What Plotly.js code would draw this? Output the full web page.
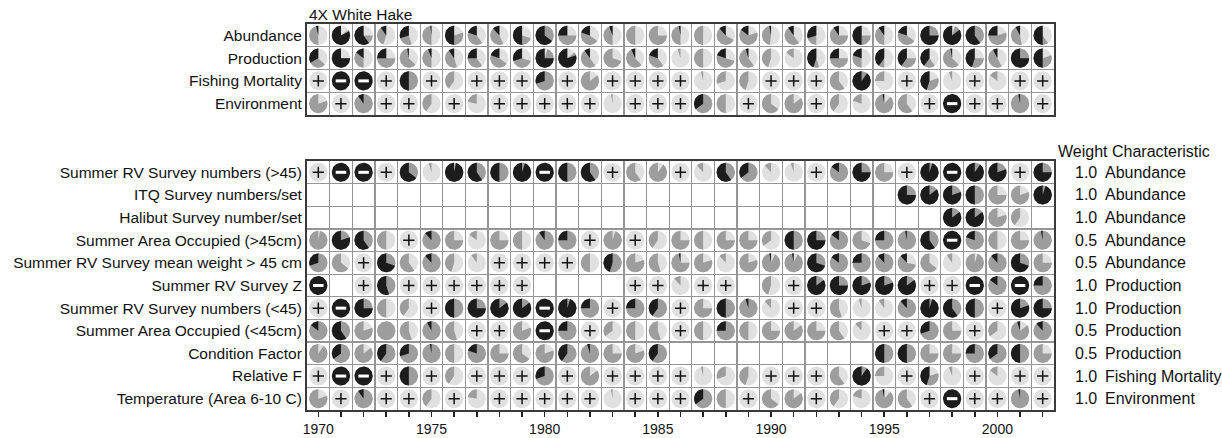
<!DOCTYPE html>
<html><head><meta charset="utf-8">
<script src="https://cdn.plot.ly/plotly-3.0.1.min.js"></script>
<style>html,body{margin:0;padding:0;background:#fff}#chart{width:1222px;height:438px}</style>
</head><body><div id="chart"></div>
<script>
// ---------------- DATA ----------------
const P = 'P', M = 'M', _ = null;   // P = "+" (no signal), M = "⊖" (full), _ = no data
const years = [1970,1971,1972,1973,1974,1975,1976,1977,1978,1979,
               1980,1981,1982,1983,1984,1985,1986,1987,1988,1989,
               1990,1991,1992,1993,1994,1995,1996,1997,1998,1999,
               2000,2001,2002];
const labelYears = [1970,1975,1980,1985,1990,1995,2000];
const chartTitle = '4X White Hake';

// each cell: [black fraction, grey fraction] drawn counter-clockwise from 12 o'clock
const abundance = [
  [0.04,0.46],[0.82,0.03],[0.6,0.15],[0.1,0.35],[0.3,0.25],[0.02,0.48],[0.5,0.3],[0.2,0.4],[0.12,0.45],[0.5,0.2],
  [0.65,0.35],[0.25,0.5],[0.2,0.45],[0.06,0.44],[0,0.5],[0,0.75],[0.03,0.47],[0,0.5],[0.12,0.55],[0.15,0.65],
  [0.03,0.45],[0.1,0.5],[0.3,0.2],[0.1,0.65],[0.5,0.25],[0.1,0.4],[0.2,0.45],[0.75,0.25],[0.85,0.1],[0.6,0.4],
  [0.25,0.55],[0.08,0.45],[0.5,0.1]];
const production = [
  [0.33,0.3],[0.75,0],[0.15,0.35],[0.25,0.5],[0.03,0.6],[0.06,0.44],[0.1,0.45],[0.25,0.35],[0.2,0.45],[0.3,0.4],
  [0.75,0.2],[0.8,0.05],[0.1,0.5],[0,0.7],[0.07,0.55],[0.2,0.4],[0,0.05],[0,0.5],[0.2,0.5],[0.05,0.55],
  [0,0.45],[0,0.15],[0.45,0.1],[0.25,0.5],[0.2,0.3],[0.4,0.1],[0.4,0.35],[0.4,0.2],[0.03,0.6],[0.45,0.3],
  [0.08,0.5],[0.75,0.25],[0.5,0.3]];
const relativeF = [
  P,M,M,P,[0.5,0.5],P,[0,0.4],P,P,P,
  [0.3,0.7],P,[0,0.85],P,P,P,P,[0,0.04],[0,0.3],[0,0.45],
  P,P,P,[0,0.6],[0.9,0.1],[0,0.25],P,[0.45,0.35],[0,0.06],P,
  [0,0.15],P,P];
const temperature = [
  [0,0.8],P,[0.1,0.9],P,P,[0,0.4],P,[0,0.22],P,P,
  P,P,P,[0,0.03],P,P,P,[0.35,0.65],[0,0.5],P,
  [0,0.65],[0,0.85],P,[0,0.4],[0,0.2],[0.03,0.85],[0,0.6],P,M,P,
  P,[0.03,0.97],P];
const fishingMortality = relativeF;   // single indicator
const environment = temperature;      // single indicator

const srvLarge = [
  P,M,M,P,[0.65,0.35],[0,0.05],[0.97,0],[0.6,0.4],[0.5,0.5],[0.95,0.05],
  M,[0.5,0.5],[0.6,0.4],P,[0,0.6],[0,0.9],P,[0,0.12],[0.6,0.4],[0.35,0.65],
  [0,0.12],[0,0.05],P,[0.15,0.85],[0.75,0.25],[0,0.75],P,[0.95,0.05],M,[0.9,0.1],
  [0.8,0.2],P,[0.75,0.25]];
const itqSurvey = [
  _,_,_,_,_,_,_,_,_,_,
  _,_,_,_,_,_,_,_,_,_,
  _,_,_,_,_,_,[0.75,0.25],[0.85,0.15],[0.8,0.2],[0.5,0.5],
  [0,0.75],[0,0.8],[0.95,0.05]];
const halibutSurvey = [
  _,_,_,_,_,_,_,_,_,_,
  _,_,_,_,_,_,_,_,_,_,
  _,_,_,_,_,_,_,_,[0.85,0.15],[0.85,0.15],
  [0,0.8],[0,0.4],_];
const saoLarge = [
  [0,0.97],[0.8,0.2],[0.6,0.4],[0,0.5],P,[0.12,0.88],[0,0.75],[0,0.15],[0,0.75],[0,0.5],
  [0.1,0.9],[0.25,0.75],P,[0,0.95],P,[0,0.4],[0,0.75],[0,0.5],[0,0.75],[0,0.75],
  [0,0.35],[0.5,0.5],[0.75,0.25],[0.15,0.85],[0,0.7],[0.25,0.75],[0.03,0.97],[0.6,0.4],M,[0.2,0.8],
  [0,0.5],[0,0.75],[0.03,0.97]];
const srvMeanWt = [
  [0.3,0.7],[0,0.65],P,[0.7,0.3],[0,0.6],[0.12,0.88],[0,0.45],[0,0.1],P,P,
  P,P,[0,0.5],[0.45,0.55],[0,0.8],[0,0.55],[0.03,0.72],[0,0.8],[0,0.12],[0,0.8],
  [0.03,0.9],[0.03,0.9],[0.7,0.3],[0.15,0.85],[0.25,0.75],[0.12,0.88],[0.12,0.6],[0,0.65],[0,0.1],[0,0.95],
  [0.12,0.88],[0.7,0.3],[0,0.75]];
const srvZ = [
  M,_,P,[0.55,0.45],P,P,P,P,P,P,
  _,_,_,_,P,P,[0,0.12],P,P,_,
  [0,0.45],P,[0.85,0.15],[0.75,0.25],[0.8,0.2],[0.8,0.2],[0.85,0.15],P,P,M,
  [0.15,0.85],M,[0.25,0.75]];
const srvSmall = [
  P,M,[0.75,0.25],[0,0.5],[0,0.4],P,[0.5,0.5],[0.75,0.25],[0.85,0.15],[0.85,0.15],
  M,[0.95,0.05],[0.25,0.75],P,[0.25,0.75],[0.4,0.6],P,[0,0.75],[0.5,0.5],[0.05,0.95],
  [0,0.12],P,P,[0,0.55],[0,0.05],[0,0.1],[0.12,0.88],[0.95,0.05],[0.6,0.4],[0.5,0.5],
  P,[0.8,0.2],[0.75,0.25]];
const saoSmall = [
  [0.15,0.85],[0.6,0.4],[0,0.8],[0,1],[0,0.55],[0.08,0.92],[0,0.55],P,P,[0,0.8],
  M,[0.25,0.75],P,[0,0.35],[0,0.5],[0,0.55],P,[0,0.5],[0.25,0.75],[0,0.5],
  [0,0.75],[0,0.85],[0,0.75],[0,0.6],[0,0.12],P,P,[0.3,0.7],[0,0.75],P,
  [0,0.35],[0.05,0.8],[0.12,0.88]];
const conditionFactor = [
  [0,0.9],[0.35,0.65],[0,0.85],[0.4,0.6],[0.3,0.7],[0.03,0.97],[0,0.5],[0.2,0.8],[0,0.75],[0,0.65],
  [0,0.8],[0.4,0.6],[0.05,0.95],[0,0.75],[0,0.8],[0.4,0.6],_,_,_,_,
  _,_,_,_,_,[0.5,0.5],[0.5,0.5],[0,0.75],[0,0.75],[0.25,0.75],
  [0.35,0.65],[0.5,0.5],[0,0.75]];

const topRowNames = ['Abundance','Production','Fishing Mortality','Environment'];
const topRows = [abundance, production, fishingMortality, environment];

const rowNames = ['Summer RV Survey numbers (>45)','ITQ Survey numbers/set','Halibut Survey number/set',
  'Summer Area Occupied (>45cm)','Summer RV Survey mean weight > 45 cm','Summer RV Survey Z',
  'Summer RV Survey numbers (<45)','Summer Area Occupied (<45cm)','Condition Factor','Relative F',
  'Temperature (Area 6-10 C)'];
const rows = [srvLarge, itqSurvey, halibutSurvey, saoLarge, srvMeanWt, srvZ, srvSmall, saoSmall,
  conditionFactor, relativeF, temperature];
const weights = ['1.0','1.0','1.0','0.5','0.5','1.0','1.0','0.5','0.5','1.0','1.0'];
const characteristics = ['Abundance','Abundance','Abundance','Abundance','Abundance','Production',
  'Production','Production','Production','Fishing Mortality','Environment'];

// ---------------- STYLE ----------------
const C_LIGHT = '#e0e0e0', C_GREY = '#9d9d9d', C_BLACK = '#1c1c1c';
const RX = 0.405, RY = 0.42;
const FONT = 'Liberation Sans, Arial, Helvetica, sans-serif';
const LABEL_SIZE = 15.5, RIGHT_SIZE = 16;

function wedge(cx, cy, frac, xs, ys) {
  if (frac <= 0.002) return;
  const full = frac >= 0.998;
  const f = Math.min(frac, 1);
  const n = Math.max(3, Math.ceil(f * 72));
  if (!full) { xs.push(cx); ys.push(cy); }
  for (let i = 0; i <= n; i++) {
    const t = f * 2 * Math.PI * i / n;
    xs.push(cx - RX * Math.sin(t));
    ys.push(cy - RY * Math.cos(t));
  }
  xs.push(null); ys.push(null);
}

function panelTraces(data, xa, ya) {
  const L = {x: [], y: []}, G = {x: [], y: []}, B = {x: [], y: []};
  const plus = {x: [], y: []}, minus = {x: [], y: []};
  data.forEach((row, r) => {
    row.forEach((v, c) => {
      const cx = years[c];
      if (v === null) return;
      if (v === M) { wedge(cx, r, 1, B.x, B.y); minus.x.push(cx); minus.y.push(r); return; }
      wedge(cx, r, 1, L.x, L.y);
      if (v === P) { plus.x.push(cx); plus.y.push(r); return; }
      wedge(cx, r, v[0] + v[1], G.x, G.y);
      wedge(cx, r, v[0], B.x, B.y);
    });
  });
  const fillTrace = (d, col) => ({type: 'scatter', mode: 'lines', x: d.x, y: d.y, fill: 'toself',
    fillcolor: col, line: {width: 0, color: col}, hoverinfo: 'skip', showlegend: false, xaxis: xa, yaxis: ya});
  return [
    fillTrace(L, C_LIGHT), fillTrace(G, C_GREY), fillTrace(B, C_BLACK),
    {type: 'scatter', mode: 'markers', x: plus.x, y: plus.y, hoverinfo: 'skip', showlegend: false,
     xaxis: xa, yaxis: ya, marker: {symbol: 'cross-thin', size: 8, line: {width: 1.5, color: '#111'}}},
    {type: 'scatter', mode: 'markers', x: minus.x, y: minus.y, hoverinfo: 'skip', showlegend: false,
     xaxis: xa, yaxis: ya, marker: {symbol: 'line-ew', size: 7.5, line: {width: 3, color: '#fff'}}}
  ];
}

const traces = [].concat(panelTraces(rows, 'x', 'y'), panelTraces(topRows, 'x2', 'y2'));

const gridMinor = {tickmode: 'linear', tick0: 0.5, dtick: 1, showgrid: true, gridcolor: '#959595', gridwidth: 1.2, ticks: ''};
const frame = {showline: true, mirror: true, linecolor: '#3a3a3a', linewidth: 2, zeroline: false, showgrid: false};

const layout = {
  width: 1222, height: 438,
  margin: {l: 307, r: 168, t: 24, b: 28},
  paper_bgcolor: '#fff', plot_bgcolor: '#fff',
  font: {family: FONT, size: 15, color: '#111'},
  showlegend: false,
  xaxis: Object.assign({}, frame, {anchor: 'y', range: [years[0] - 0.5, years[years.length - 1] + 0.5],
    tickmode: 'array', tickvals: years, ticktext: years.map(y => labelYears.includes(y) ? String(y) : ''),
    ticks: 'outside', ticklen: 5, tickwidth: 1.5, tickcolor: '#222', tickfont: {size: 14},
    ticklabelstandoff: 0, minor: gridMinor}),
  yaxis: Object.assign({}, frame, {domain: [0, 0.6451], range: [rows.length - 0.5, -0.5],
    tickmode: 'array', tickvals: rowNames.map((_n, i) => i), ticktext: rowNames, ticks: '',
    tickfont: {size: LABEL_SIZE}, minor: gridMinor}),
  xaxis2: Object.assign({}, frame, {anchor: 'y2', range: [years[0] - 0.5, years[years.length - 1] + 0.5],
    showticklabels: false, ticks: '', minor: gridMinor}),
  yaxis2: Object.assign({}, frame, {domain: [0.7642, 1], range: [topRows.length - 0.5, -0.5],
    tickmode: 'array', tickvals: topRowNames.map((_n, i) => i), ticktext: topRowNames, ticks: '',
    tickfont: {size: LABEL_SIZE}, minor: gridMinor}),
  annotations: [
    {text: chartTitle, xref: 'paper', yref: 'paper', x: 0, y: 1.024, xanchor: 'left', yanchor: 'middle',
     showarrow: false, font: {size: LABEL_SIZE}},
    {text: 'Weight Characteristic', xref: 'paper', yref: 'paper', x: 1.003, y: 0.67, xanchor: 'left',
     yanchor: 'middle', showarrow: false, font: {size: RIGHT_SIZE}}
  ].concat(weights.map((w, i) => ({text: w, xref: 'paper', yref: 'y', x: 1.026, y: i, xanchor: 'left',
     yanchor: 'middle', showarrow: false, font: {size: RIGHT_SIZE}})))
   .concat(characteristics.map((c, i) => ({text: c, xref: 'paper', yref: 'y', x: 1.066, y: i, xanchor: 'left',
     yanchor: 'middle', showarrow: false, font: {size: RIGHT_SIZE}})))
};

Plotly.newPlot('chart', traces, layout, {staticPlot: true, displayModeBar: false});
</script>
</body></html>
